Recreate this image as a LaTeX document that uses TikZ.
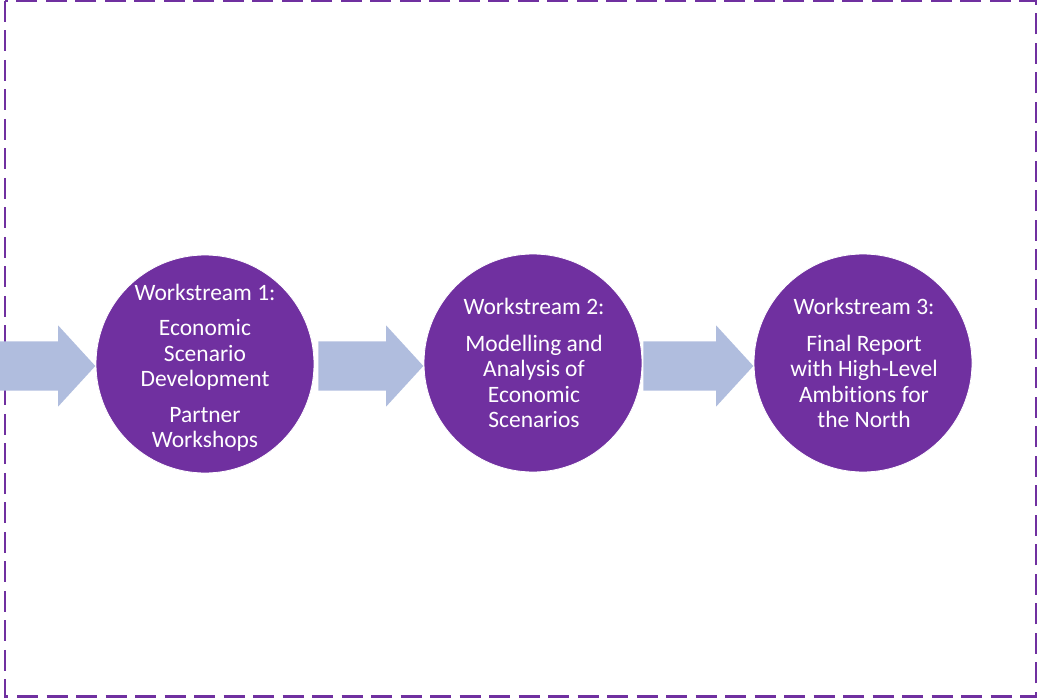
\documentclass[tikz,border=0pt]{standalone}
\usepackage{fontspec}
\setmainfont{Carlito}[Ligatures=NoCommon]
\usepackage{tikz}
\usetikzlibrary{shapes.arrows}
\usetikzlibrary{positioning}

\definecolor{wspurple}{RGB}{112,48,160}
\definecolor{flowblue}{RGB}{176,189,222}

\tikzset{
    stage/.style={circle, fill=wspurple, draw=white, line width=0.8pt, minimum size=218pt, inner sep=0pt},
    stagetext/.style={text=white, align=center, font=\fontsize{23.5}{25.5}\selectfont},
    flow/.style={single arrow, fill=flowblue, draw=none, inner xsep=0pt, inner ysep=24.5pt,
        single arrow head extend=16pt, single arrow tip angle=95}
}

\begin{document}
\begin{tikzpicture}[x=1pt, y=-1pt]
        \useasboundingbox (0,0) rectangle (1038,698);

        % Frame
        \draw[wspurple, line width=2.8pt, dash pattern=on 21pt off 8.5pt] (5,0.8) rectangle (1036,696.8);

        % Nodes
        \node[stage] (ws1) at (205,364) {};
        \node[stage] (ws2) at (533,363) {};
        \node[stage] (ws3) at (863,363) {};

        \node[stagetext] (t1) at ([yshift=-4pt]ws1.center) {Workstream 1:\\[9.5pt] Economic\\ Scenario\\ Development\\[10pt] Partner\\ Workshops};
        \node[stagetext] (t2) at ([xshift=1pt]ws2.center) {Workstream 2:\\[11pt] Modelling and\\ Analysis of\\ Economic\\ Scenarios};
        \node[stagetext] (t3) at ([xshift=1pt]ws3.center) {Workstream 3:\\[11pt] Final Report\\ with High-Level\\ Ambitions for\\ the North};

        % Edges
        \node[flow, minimum height=96pt, anchor=tip] (a0) at ([yshift=-2pt]ws1.west) {};
        \node[flow, minimum height=105pt, anchor=tip] (a1) at ([yshift=-3pt]ws2.west) {};
        \node[flow, minimum height=110pt, anchor=tip] (a2) at ([yshift=-3pt]ws3.west) {};

    \end{tikzpicture}
\end{document}
